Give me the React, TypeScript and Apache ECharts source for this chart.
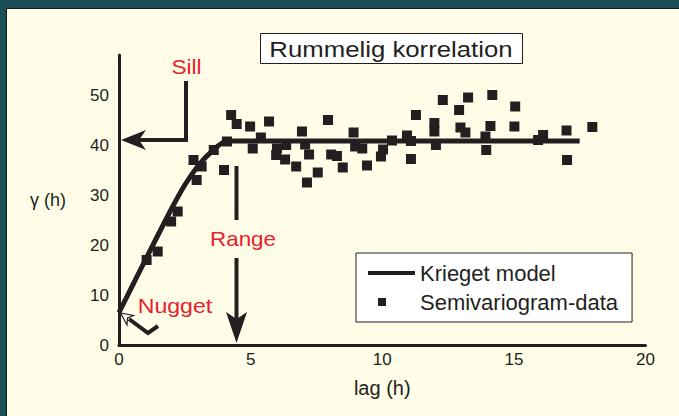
import React, { useEffect, useRef } from "react";
import * as echarts from "echarts";

// ---- data ----
const xTickStep = 5;
const yTickStep = 10;

const modelLag = [0, 1, 2, 2.5, 3, 3.5, 4.1, 17.5];
const modelGamma = [6.5, 17, 27.3, 32, 35.8, 38.6, 40.8, 40.8];

const dataLag = [
  1.05, 1.47, 1.98, 2.23, 2.83, 2.95, 3.14, 3.6, 3.99, 4.1, 4.26, 4.47, 4.98, 5.08, 5.39, 5.7,
  6.0, 5.97, 6.35, 6.31, 6.73, 6.95, 7.07, 7.22, 7.14, 7.55, 7.94, 8.06, 8.28, 8.5, 8.91, 8.97,
  9.24, 9.42, 9.95, 10.03, 10.37, 10.94, 11.09, 11.09, 11.28, 11.98, 11.98, 12.04, 12.3, 12.92,
  13.26, 12.97, 13.16, 14.18, 14.11, 13.92, 13.95, 15.05, 15.02, 16.11, 15.92, 17.0, 17.02, 17.98,
];
const dataGamma = [
  17, 18.7, 24.7, 26.7, 37, 33, 35.7, 39, 35, 40.7, 46, 44.2, 43.7, 39.3, 41.5, 44.7,
  39.3, 38, 40, 37.1, 35.7, 42.7, 40.1, 38.1, 32.5, 34.5, 45, 38.1, 37.8, 35.5, 42.5, 39.7,
  39.3, 35.9, 37.7, 39.1, 40.9, 41.9, 40.8, 37.2, 46, 44.4, 42.7, 40, 49, 47,
  49.5, 43.5, 42.5, 50, 43.8, 41.7, 39, 47.7, 43.7, 42, 41, 42.9, 37, 43.6,
];

const titleText = "Rummelig korrelation";
const modelName = "Krieget model";
const dataName = "Semivariogram-data";

const INK = "#231f20";
const RED = "#e8202a";
const FONT = "'Liberation Sans', Arial, Helvetica, sans-serif";

export default function App() {
  const ref = useRef<HTMLDivElement>(null);

  useEffect(() => {
    if (!ref.current) return;
    const chart = echarts.init(ref.current, undefined, { renderer: "svg" });
    const modelData = modelLag.map((x, i) => [x, modelGamma[i]]);
    const pointData = dataLag.map((x, i) => [x, dataGamma[i]]);

    const txt = (text: string, x: number, y: number, size: number, fill: string, sx = 1.12) => ({
      type: "text",
      x,
      y,
      scaleX: sx,
      z: 10,
      style: {
        text,
        fontSize: size,
        fontFamily: FONT,
        fill,
        align: "center",
        verticalAlign: "middle",
      },
    });

    chart.setOption({
      animation: false,
      backgroundColor: "transparent",
      textStyle: { fontFamily: FONT },
      grid: { left: 119, right: 33.5, top: 55, bottom: 71, containLabel: false },
      xAxis: {
        type: "value",
        min: 0,
        max: 20,
        interval: xTickStep,
        name: "lag (h)",
        nameLocation: "middle",
        nameGap: 33,
        nameTextStyle: { fontSize: 20, color: INK, fontFamily: FONT },
        axisLine: { show: true, onZero: false, lineStyle: { color: INK, width: 3 } },
        axisTick: { show: false },
        splitLine: { show: false },
        axisLabel: { fontSize: 17, color: INK, margin: 6, fontFamily: FONT },
      },
      yAxis: {
        type: "value",
        min: 0,
        max: 58,
        interval: yTickStep,
        name: "γ (h)",
        nameLocation: "middle",
        nameRotate: 0,
        nameGap: 53,
        nameTextStyle: { fontSize: 18, color: INK, fontFamily: FONT },
        axisLine: { show: true, onZero: false, lineStyle: { color: INK, width: 3 } },
        axisTick: { show: false },
        splitLine: { show: false },
        axisLabel: {
          fontSize: 17,
          color: INK,
          margin: 10,
          fontFamily: FONT,
          showMaxLabel: false,
          formatter: (v: number) => (v % 10 === 0 && v <= 50 ? String(v) : ""),
        },
      },
      legend: {
        orient: "vertical",
        left: 356,
        top: 253,
        itemGap: 7,
        itemWidth: 47,
        itemHeight: 10,
        padding: [9, 14, 9, 12],
        backgroundColor: "#ffffff",
        borderColor: INK,
        borderWidth: 1,
        selectedMode: false,
        textStyle: { fontSize: 22, color: INK, fontFamily: FONT },
        data: [
          { name: modelName, icon: "path://M0,0M47,10M0,3L47,3L47,7L0,7Z" },
          { name: dataName, icon: "path://M0,0M47,10M10,1L18,1L18,9L10,9Z" },
        ],
      },
      series: [
        {
          name: modelName,
          type: "line",
          data: modelData,
          showSymbol: false,
          symbol: "none",
          smooth: 0.25,
          lineStyle: { color: INK, width: 5 },
          itemStyle: { color: INK },
          z: 2,
        },
        {
          name: dataName,
          type: "scatter",
          data: pointData,
          symbol: "rect",
          symbolSize: 10,
          itemStyle: { color: INK, opacity: 1 },
          z: 3,
        },
      ],
      graphic: [
        {
          type: "rect",
          z: 10,
          shape: { x: 260.5, y: 33.5, width: 262, height: 30 },
          style: { fill: "#ffffff", stroke: INK, lineWidth: 1 },
        },
        txt(titleText, 391, 48.5, 23, INK),
        // Sill
        txt("Sill", 186.5, 67, 21, RED, 1.08),
        {
          type: "polyline",
          z: 10,
          shape: { points: [[186, 81], [186, 140], [138, 140]] },
          style: { stroke: INK, lineWidth: 4, fill: null },
        },
        {
          type: "polygon",
          z: 10,
          shape: { points: [[121, 140], [146, 130], [139, 140], [146, 150]] },
          style: { fill: INK },
        },
        // Range
        txt("Range", 243, 239, 20, RED, 1.12),
        {
          type: "line",
          z: 10,
          shape: { x1: 236.5, y1: 166, x2: 236.5, y2: 220 },
          style: { stroke: INK, lineWidth: 4 },
        },
        {
          type: "line",
          z: 10,
          shape: { x1: 236.5, y1: 258, x2: 236.5, y2: 320 },
          style: { stroke: INK, lineWidth: 4 },
        },
        {
          type: "polygon",
          z: 10,
          shape: { points: [[236.5, 343], [226, 312], [236.5, 319], [247, 312]] },
          style: { fill: INK },
        },
        // Nugget
        txt("Nugget", 175, 306, 21, RED, 1.1),
        {
          type: "polyline",
          z: 10,
          shape: { points: [[158, 326], [148, 333], [129, 319]] },
          style: { stroke: INK, lineWidth: 4, fill: null },
        },
        {
          type: "polygon",
          z: 11,
          shape: { points: [[120.5, 313], [133.5, 315.5], [127.5, 318], [127, 325]] },
          style: { fill: "#ffffff", stroke: INK, lineWidth: 1.2 },
        },
      ],
    });

    return () => chart.dispose();
  }, []);

  return (
    <div
      style={{
        position: "fixed",
        left: 0,
        top: 0,
        width: 679,
        height: 416,
        background: "#1c4e59",
        overflow: "hidden",
      }}
    >
      <div
        style={{
          position: "absolute",
          left: 6,
          top: 8,
          right: 0,
          bottom: 0,
          background: "#fffde8",
          borderLeft: "1px solid #1a1a1a",
          borderTop: "1px solid #1a1a1a",
        }}
      />
      <div ref={ref} style={{ position: "absolute", left: 0, top: 0, width: 679, height: 416 }} />
    </div>
  );
}
